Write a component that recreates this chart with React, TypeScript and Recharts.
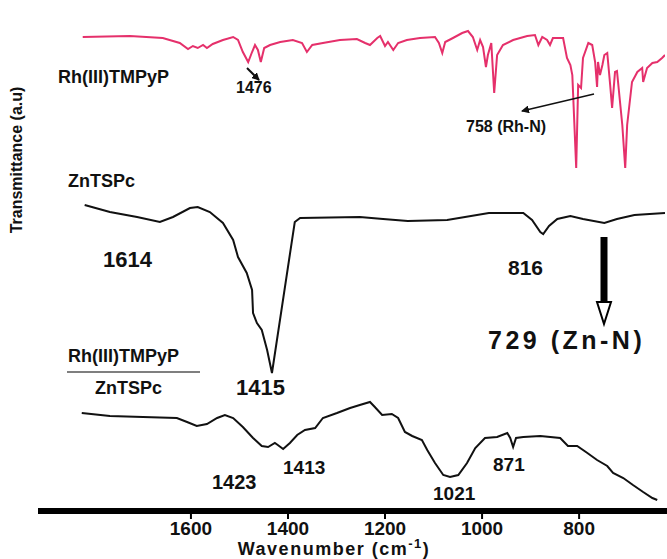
import React from 'react';
import { LineChart, Line, XAxis, YAxis } from 'recharts';

// x axis ticks (wavenumber, cm^-1)
const xTicks = [1600, 1400, 1200, 1000, 800];
const xDomain = [623, 1909];
const yDomain = [-3, 489];

// [wavenumber, transmittance (a.u., stacked offset)]
const rhTMPyP: [number, number][] = [
  [1823, 471], [1726, 472], [1658, 470], [1623, 465], [1606, 459], [1596, 462], [1586, 460], [1575, 463],
  [1567, 460], [1555, 464], [1534, 468], [1513, 471], [1503, 468], [1493, 456], [1482, 446], [1474, 456],
  [1468, 463], [1462, 458], [1456, 446], [1449, 460], [1437, 463], [1416, 466], [1390, 468], [1371, 465],
  [1361, 456], [1350, 463], [1328, 465], [1293, 468], [1258, 469], [1241, 465], [1231, 463], [1216, 470],
  [1210, 472], [1200, 462], [1194, 466], [1183, 458], [1173, 465], [1155, 468], [1128, 470], [1097, 471],
  [1089, 465], [1082, 455], [1076, 466], [1060, 470], [1041, 475], [1029, 477], [1019, 471], [1010, 458],
  [1004, 468], [998, 461], [992, 441], [988, 453], [981, 465], [975, 415], [969, 453], [957, 463],
  [936, 468], [907, 472], [891, 473], [884, 463], [876, 471], [866, 468], [860, 463], [854, 470],
  [833, 470], [825, 450], [818, 443], [814, 433], [806, 340], [802, 423], [796, 420], [792, 450],
  [781, 465], [773, 463], [767, 446], [763, 421], [761, 446], [757, 433], [752, 443], [748, 453],
  [742, 455], [736, 423], [732, 400], [726, 436], [722, 437], [711, 383], [705, 340], [701, 383],
  [691, 426], [680, 436], [670, 440], [668, 426], [660, 440], [649, 445], [639, 446], [629, 450],
  [623, 453],
];

const znTSPc: [number, number][] = [
  [1819, 303], [1767, 296], [1711, 291], [1664, 286], [1637, 291], [1602, 300], [1586, 301], [1561, 296],
  [1534, 285], [1513, 268], [1503, 251], [1485, 235], [1474, 218], [1472, 195], [1464, 185], [1454, 178],
  [1443, 158], [1433, 135], [1386, 286], [1375, 290], [1252, 291], [1204, 289], [1153, 287], [1072, 288],
  [986, 295], [915, 295], [897, 288], [880, 276], [874, 274], [862, 282], [845, 289], [818, 292],
  [792, 289], [748, 285], [722, 289], [686, 293], [623, 295],
];

const rhZnComposite: [number, number][] = [
  [1825, 95], [1767, 92], [1699, 91], [1629, 90], [1608, 86], [1588, 82], [1567, 84], [1546, 90],
  [1530, 93], [1513, 90], [1493, 81], [1472, 70], [1454, 62], [1441, 61], [1427, 65], [1421, 63],
  [1410, 59], [1396, 65], [1381, 73], [1365, 78], [1344, 80], [1328, 90], [1299, 95], [1272, 100],
  [1252, 103], [1231, 106], [1221, 101], [1206, 93], [1186, 94], [1173, 90], [1159, 76], [1144, 72],
  [1124, 68], [1113, 58], [1097, 45], [1080, 33], [1066, 31], [1049, 33], [1031, 45], [1014, 60],
  [994, 70], [969, 71], [948, 75], [942, 70], [936, 61], [930, 70], [915, 71], [880, 72],
  [839, 70], [823, 62], [804, 62], [783, 55], [763, 48], [742, 42], [730, 35], [709, 30],
  [689, 23], [668, 16], [649, 10], [639, 8],
];

const toRows = (pairs: [number, number][]) => pairs.map(([w, t]) => ({ w, t }));

const FONT = "'Liberation Sans', Arial, Helvetica, sans-serif";

export default function App() {
  const txt = (fs: number) => ({ fontFamily: FONT, fontWeight: 700, fontSize: fs, fill: '#111' });
  return (
    <div style={{ position: 'absolute', left: 0, top: 0, width: 667, height: 559, background: '#fff' }}>
      <LineChart width={667} height={559} margin={{ top: 19, right: 2, bottom: 8, left: 41 }}>
        <XAxis
          dataKey="w"
          type="number"
          domain={xDomain}
          reversed
          allowDataOverflow
          ticks={xTicks}
          height={40}
          axisLine={{ stroke: '#000', strokeWidth: 6, strokeLinecap: 'square' }}
          tickLine={{ stroke: '#000', strokeWidth: 2 }}
          tickSize={8}
          tickMargin={3}
          tick={{ fontFamily: FONT, fontWeight: 700, fontSize: 19, fill: '#111' }}
        />
        <YAxis
          type="number"
          domain={yDomain}
          allowDataOverflow
          width={0}
          tick={false}
          tickLine={false}
          axisLine={{ stroke: '#000', strokeWidth: 6, strokeLinecap: 'square' }}
        />
        <Line data={toRows(rhTMPyP)} dataKey="t" stroke="#e5306b" strokeWidth={2} dot={false} isAnimationActive={false} />
        <Line data={toRows(znTSPc)} dataKey="t" stroke="#111" strokeWidth={2} dot={false} isAnimationActive={false} />
        <Line data={toRows(rhZnComposite)} dataKey="t" stroke="#111" strokeWidth={2} dot={false} isAnimationActive={false} />
      </LineChart>
      <svg width={667} height={559} style={{ position: 'absolute', left: 0, top: 0, pointerEvents: 'none' }}>
        <defs>
          <marker id="ah" markerWidth="8" markerHeight="8" refX="7" refY="4" orient="auto" markerUnits="userSpaceOnUse">
            <path d="M0,0 L8,4 L0,8 Z" fill="#111" />
          </marker>
        </defs>
        <text x={22} y={160} transform="rotate(-90 22 160)" textAnchor="middle" style={txt(16)}>Transmittance (a.u)</text>

        <text x={58} y={83} style={txt(18)}>Rh(III)TMPyP</text>
        <line x1={247} y1={68} x2={259} y2={80} stroke="#111" strokeWidth={2} markerEnd="url(#ah)" />
        <text x={236} y={93} style={txt(16)}>1476</text>
        <line x1={594} y1={94} x2={522} y2={111} stroke="#111" strokeWidth={1.5} markerEnd="url(#ah)" />
        <text x={466} y={132} style={txt(16)}>758 (Rh-N)</text>

        <text x={68} y={187} style={txt(18)}>ZnTSPc</text>
        <text x={103} y={267} style={txt(22)}>1614</text>
        <text x={508} y={275} style={txt(21)}>816</text>
        <line x1={604} y1={237} x2={604} y2={302} stroke="#000" strokeWidth={7} />
        <polygon points="597,302 611,302 604,324" fill="#fff" stroke="#000" strokeWidth={2} />
        <text x={488} y={349} style={{ ...txt(25), letterSpacing: 3.5 }}>729 (Zn-N)</text>

        <text x={68} y={362} style={txt(18)}>Rh(III)TMPyP</text>
        <line x1={67} y1={372} x2={200} y2={372} stroke="#555" strokeWidth={1.5} />
        <text x={95} y={394} style={txt(18)}>ZnTSPc</text>
        <text x={236} y={395} style={txt(22)}>1415</text>

        <text x={212} y={489} style={txt(20)}>1423</text>
        <text x={283} y={474} style={txt(19)}>1413</text>
        <text x={433} y={500} style={txt(19)}>1021</text>
        <text x={493} y={471} style={txt(19)}>871</text>

        <text x={334} y={555} textAnchor="middle" style={{ ...txt(18), letterSpacing: 1.5 }}>
          Wavenumber (cm<tspan dy={-7} fontSize={13}>-1</tspan><tspan dy={7}>)</tspan>
        </text>
      </svg>
    </div>
  );
}
